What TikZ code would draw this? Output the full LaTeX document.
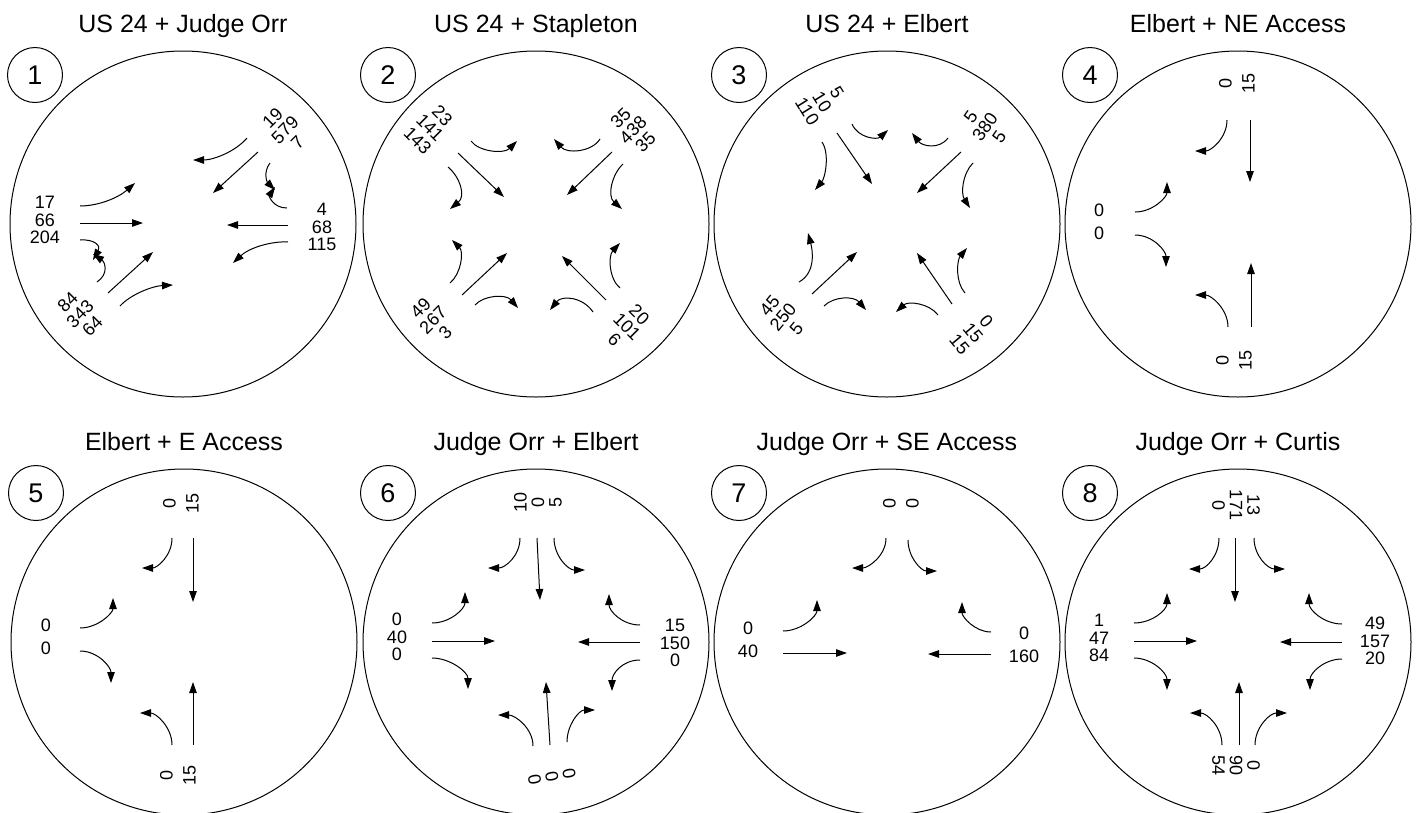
\documentclass[tikz,border=0pt]{standalone}
\usepackage{fontspec}
\setmainfont{Liberation Sans}
\usetikzlibrary{arrows.meta}
\begin{document}
\begin{tikzpicture}[x=1pt, y=-1pt, line width=1pt,
	mv/.style={-{Triangle[length=11pt,width=7.5pt]}},
	numc/.style={draw, circle, minimum size=55pt, inner sep=0pt, font=\fontsize{27}{27}\selectfont},
	ttl/.style={anchor=base, inner sep=0pt, font=\fontsize{25}{30}\selectfont},
	lbl/.style={inner sep=0pt, align=center, font=\fontsize{18}{17.5}\selectfont},
	lbltwo/.style={inner sep=0pt, align=center, font=\fontsize{18}{23}\selectfont}]
	\useasboundingbox (0,0) rectangle (1422,812);

	\begin{scope}[shift={(183,224)}]
	\draw (0,0) circle[radius=173pt];
	\node[numc] (n1) at (-148,-149) {1};
	\node[ttl]  (t1) at (0,-192) {US 24 + Judge Orr};
	\node[lbl]            (c1w)  at (-138,-4) {17\\66\\204};
	\node[lbl]            (c1e)  at (139,3)   {4\\68\\115};
	\node[lbl, rotate=45] (c1ne) at (102,-94) {19\\579\\7};
	\node[lbl, rotate=45] (c1sw) at (-103,90) {84\\343\\64};
	\draw[mv] (-103,-1)  -- (-40,-1);
	\draw[mv] (-103,-18) .. controls (-85,-18) and (-65,-26) .. (-48,-41);
	\draw[mv] (-103,16)  .. controls (-88,15) and (-82,22) .. (-90,36);
	\draw[mv] (-86,58)   .. controls (-74,50) and (-78,38) .. (-90,30);
	\draw[mv] (-75,69)   -- (-30,28);
	\draw[mv] (-63,82)   .. controls (-52,70) and (-30,62) .. (-10,61);
	\draw[mv] (64,-86)   .. controls (52,-72) and (30,-64) .. (10,-64);
	\draw[mv] (75,-72)   -- (30,-31);
	\draw[mv] (87,-61)   .. controls (80,-52) and (84,-42) .. (92,-34);
	\draw[mv] (104,-16)  .. controls (90,-16) and (86,-28) .. (92,-37);
	\draw[mv] (105,1)    -- (44,1);
	\draw[mv] (105,18)   .. controls (88,17) and (66,24) .. (50,39);
	\end{scope}

	\begin{scope}[shift={(536,224)}]
	\draw (0,0) circle[radius=173pt];
	\node[numc] (n2) at (-148,-149) {2};
	\node[ttl]  (t2) at (0,-192) {US 24 + Stapleton};
	\node[lbl, rotate=-45] (c2nw) at (-106,-96) {23\\141\\143};
	\node[lbl, rotate=45]  (c2ne) at (97,-94)   {35\\438\\35};
	\node[lbl, rotate=45]  (c2sw) at (-103,96)  {49\\267\\3};
	\node[lbl, rotate=-45] (c2se) at (91,103)   {20\\101\\6};
	\draw[mv] (-78,-71) -- (-32,-27);
	\draw[mv] (-65,-83) .. controls (-57,-72) and (-32,-70) .. (-19,-83);
	\draw[mv] (-88,-57) .. controls (-76,-47) and (-70,-28) .. (-86,-15);
	\draw[mv] (76,-72)  -- (31,-29);
	\draw[mv] (64,-85)  .. controls (56,-72) and (31,-70) .. (18,-85);
	\draw[mv] (87,-60)  .. controls (76,-50) and (71,-28) .. (86,-15);
	\draw[mv] (-74,71)  -- (-29,29);
	\draw[mv] (-86,59)  .. controls (-75,50) and (-72,28) .. (-84,16);
	\draw[mv] (-61,81)  .. controls (-52,71) and (-30,70) .. (-18,84);
	\draw[mv] (70,76)   -- (26,32);
	\draw[mv] (84,64)   .. controls (73,55) and (72,32) .. (84,19);
	\draw[mv] (57,88)   .. controls (47,73) and (26,71) .. (14,86);
	\end{scope}

	\begin{scope}[shift={(887,224)}]
	\draw (0,0) circle[radius=173pt];
	\node[numc] (n3) at (-148,-149) {3};
	\node[ttl]  (t3) at (0,-192) {US 24 + Elbert};
	\node[lbl, rotate=-58] (c3nw) at (-65,-122) {5\\10\\110};
	\node[lbl, rotate=55]  (c3ne) at (98,-97)   {5\\380\\5};
	\node[lbl, rotate=50]  (c3sw) at (-104,93)  {45\\250\\5};
	\node[lbl, rotate=-50] (c3se) at (86,109)   {0\\15\\15};
	\draw[mv] (-50,-91)  -- (-15,-40);
	\draw[mv] (-65,-82)  .. controls (-57,-70) and (-62,-46) .. (-72,-34);
	\draw[mv] (-35,-100) .. controls (-29,-86) and (-10,-84) .. (1,-94);
	\draw[mv] (74,-72)   -- (30,-31);
	\draw[mv] (61,-86)   .. controls (52,-74) and (35,-78) .. (25,-91);
	\draw[mv] (86,-61)   .. controls (75,-50) and (74,-30) .. (83,-16);
	\draw[mv] (-75,70)   -- (-30,28);
	\draw[mv] (-88,58)   .. controls (-70,48) and (-75,24) .. (-79,9);
	\draw[mv] (-63,82)   .. controls (-53,72) and (-33,72) .. (-21,86);
	\draw[mv] (65,80)    -- (30,29);
	\draw[mv] (78,69)    .. controls (68,58) and (70,36) .. (80,24);
	\draw[mv] (51,91)    .. controls (42,79) and (21,77) .. (9,88);
	\end{scope}

	\begin{scope}[shift={(1238,224)}]
	\draw (0,0) circle[radius=173pt];
	\node[numc] (n4) at (-148,-149) {4};
	\node[ttl]  (t4) at (0,-192) {Elbert + NE Access};
	\node[lbltwo, rotate=90] (c4n) at (-1,-141) {0\\15};
	\node[lbltwo]            (c4w) at (-139,-2) {0\\0};
	\node[lbltwo, rotate=90] (c4s) at (-4,136)  {0\\15};
	\draw[mv] (-11,-104) .. controls (-11,-86) and (-27,-73) .. (-43,-73);
	\draw[mv] (12,-104)  -- (12,-42);
	\draw[mv] (-103,-12) .. controls (-85,-12) and (-71,-27) .. (-71,-42);
	\draw[mv] (-103,11)  .. controls (-85,11) and (-72,27) .. (-72,43);
	\draw[mv] (-10,103)  .. controls (-10,85) and (-27,71) .. (-43,71);
	\draw[mv] (13,103)   -- (13,39);
	\end{scope}

	\begin{scope}[shift={(184,642)}]
	\draw (0,0) circle[radius=173pt];
	\node[numc] (n5) at (-148,-149) {5};
	\node[ttl]  (t5) at (0,-192) {Elbert + E Access};
	\node[lbltwo, rotate=90] (c5n) at (-3,-139) {0\\15};
	\node[lbltwo]            (c5w) at (-138,-5) {0\\0};
	\node[lbltwo, rotate=90] (c5s) at (-6,133)  {0\\15};
	\draw[mv] (-12,-104) .. controls (-12,-86) and (-27,-74) .. (-42,-74);
	\draw[mv] (9,-104)   -- (9,-40);
	\draw[mv] (-104,-14) .. controls (-86,-14) and (-71,-29) .. (-71,-44);
	\draw[mv] (-104,9)   .. controls (-86,9) and (-73,25) .. (-73,41);
	\draw[mv] (-12,103)  .. controls (-12,85) and (-28,71) .. (-44,71);
	\draw[mv] (9,103)    -- (9,40);
	\end{scope}

	\begin{scope}[shift={(536,642)}]
	\draw (0,0) circle[radius=173pt];
	\node[numc] (n6) at (-148,-149) {6};
	\node[ttl]  (t6) at (0,-192) {Judge Orr + Elbert};
	\node[lbl, rotate=90]  (c6n) at (2,-140) {10\\0\\5};
	\node[lbl]             (c6w) at (-139,-5) {0\\40\\0};
	\node[lbl]             (c6e) at (139,1)   {15\\150\\0};
	\node[lbl, rotate=100] (c6s) at (16,135)  {0\\0\\0};
	\draw[mv] (-16,-104) .. controls (-16,-86) and (-31,-74) .. (-48,-74);
	\draw[mv] (1,-104)   -- (4,-42);
	\draw[mv] (18,-104)  .. controls (18,-86) and (32,-72) .. (49,-72);
	\draw[mv] (-104,-19) .. controls (-86,-19) and (-71,-33) .. (-71,-50);
	\draw[mv] (-104,-1)  -- (-41,-1);
	\draw[mv] (-104,16)  .. controls (-86,16) and (-68,30) .. (-68,47);
	\draw[mv] (104,-17)  .. controls (86,-17) and (73,-31) .. (73,-48);
	\draw[mv] (104,0)    -- (42,0);
	\draw[mv] (104,18)   .. controls (86,18) and (76,32) .. (76,49);
	\draw[mv] (-3,104)   .. controls (-3,86) and (-21,73) .. (-38,73);
	\draw[mv] (14,103)   -- (10,40);
	\draw[mv] (31,100)   .. controls (31,83) and (43,68) .. (59,68);
	\end{scope}

	\begin{scope}[shift={(887,642)}]
	\draw (0,0) circle[radius=173pt];
	\node[numc] (n7) at (-148,-149) {7};
	\node[ttl]  (t7) at (0,-192) {Judge Orr + SE Access};
	\node[lbltwo, rotate=90] (c7n) at (14,-139) {0\\0};
	\node[lbltwo]            (c7w) at (-139,-2) {0\\40};
	\node[lbltwo]            (c7e) at (137,3)   {0\\160};
	\draw[mv] (-1,-104)  .. controls (-1,-86) and (-19,-74) .. (-35,-74);
	\draw[mv] (21,-102)  .. controls (21,-85) and (34,-71) .. (50,-71);
	\draw[mv] (-104,-11) .. controls (-86,-11) and (-70,-26) .. (-70,-42);
	\draw[mv] (-104,11)  -- (-40,11);
	\draw[mv] (104,-10)  .. controls (88,-10) and (75,-25) .. (75,-40);
	\draw[mv] (104,12)   -- (41,12);
	\end{scope}

	\begin{scope}[shift={(1238,642)}]
	\draw (0,0) circle[radius=173pt];
	\node[numc] (n8) at (-148,-149) {8};
	\node[ttl]  (t8) at (0,-192) {Judge Orr + Curtis};
	\node[lbl, rotate=-90] (c8n) at (-2,-137) {13\\171\\0};
	\node[lbl]             (c8w) at (-139,-4) {1\\47\\84};
	\node[lbl]             (c8e) at (137,-1)  {49\\157\\20};
	\node[lbl, rotate=-90] (c8s) at (-2,123)  {0\\90\\54};
	\draw[mv] (-19,-104) .. controls (-19,-86) and (-32,-73) .. (-49,-73);
	\draw[mv] (-3,-104)  -- (-3,-40);
	\draw[mv] (16,-104)  .. controls (16,-86) and (30,-73) .. (47,-73);
	\draw[mv] (-104,-19) .. controls (-86,-19) and (-71,-32) .. (-71,-49);
	\draw[mv] (-104,-1)  -- (-41,-1);
	\draw[mv] (-104,16)  .. controls (-86,16) and (-71,31) .. (-71,48);
	\draw[mv] (104,-18)  .. controls (86,-18) and (71,-32) .. (71,-49);
	\draw[mv] (104,0)    -- (42,0);
	\draw[mv] (104,17)   .. controls (86,17) and (72,31) .. (72,48);
	\draw[mv] (-16,103)  .. controls (-16,85) and (-31,71) .. (-48,71);
	\draw[mv] (1,103)    -- (1,40);
	\draw[mv] (17,103)   .. controls (17,85) and (32,71) .. (49,71);
	\end{scope}
\end{tikzpicture}
\end{document}
